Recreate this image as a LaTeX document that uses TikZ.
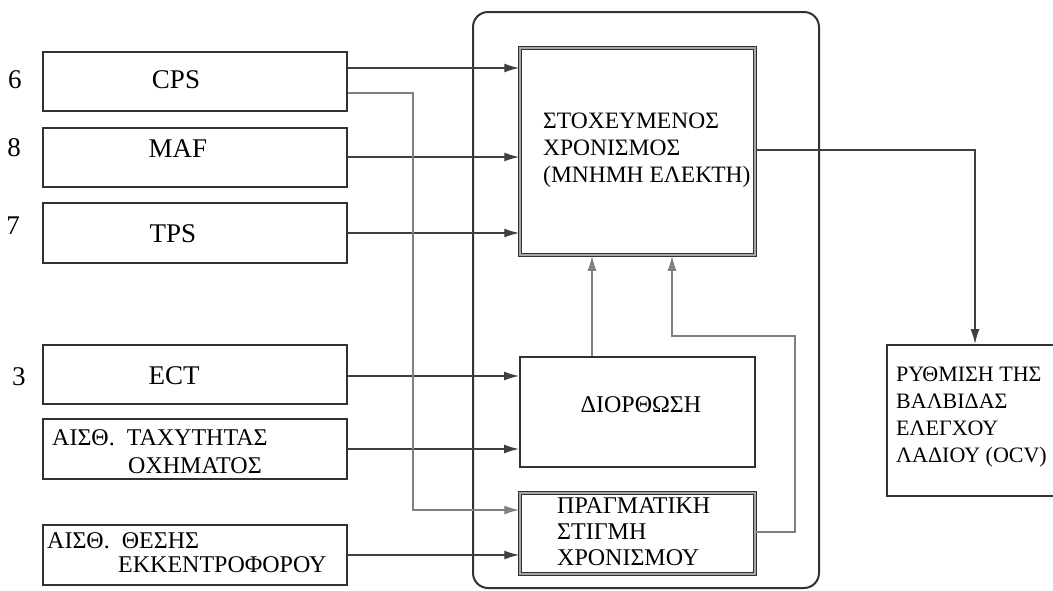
\documentclass[tikz,border=0pt]{standalone}
\usepackage{fontspec}
\setmainfont{Liberation Serif}
\usetikzlibrary{arrows.meta, positioning}
\definecolor{lgray}{RGB}{50,50,50}

\begin{document}
\begin{tikzpicture}[x=1pt, y=-1pt,
  sbox/.style={draw=lgray, line width=2pt, minimum width=304pt, minimum height=59pt, inner sep=0pt},
  cbox/.style={draw=lgray, line width=2pt, minimum width=235pt, inner sep=0pt},
  dbox/.style={cbox, line width=1.5pt, double=black!35, double distance=1.6pt},
  txt/.style={inner sep=0pt, font=\fontsize{24}{27}\selectfont, align=left},
  big/.style={inner sep=0pt, font=\fontsize{27}{30}\selectfont},
  arr/.style={-{Latex[length=15pt, width=9pt]}, line width=1.4pt, black!75},
  arrl/.style={arr, black!50}
]
\useasboundingbox (0,0) rectangle (1053,590);

% sensors
\node[sbox] (cps) at (195,81.5) {};
\node[sbox] (maf) at (195,157.5) {};
\node[sbox, minimum height=60pt] (tps) at (195,233) {};
\node[sbox] (ect) at (195,374.5) {};
\node[sbox, minimum height=60pt] (tax) at (195,449) {};
\node[sbox, minimum height=60pt] (ekk) at (195,555) {};

\node[big] (n6) at (15,80) {6};
\node[big] (n8) at (14,148) {8};
\node[big] (n7) at (13,226) {7};
\node[big] (n3) at (19,377) {3};

\node[big] (cpsl) at (176,80) {CPS};
\node[big] (mafl) at (178,149) {MAF};
\node[big] (tpsl) at (173,234) {TPS};
\node[big] (ectl) at (174,376) {ECT};
\node[txt, anchor=north west, font=\fontsize{24}{28}\selectfont] (taxl) at (52,429.5)
  {ΑΙΣΘ.~~ΤΑΧΥΤΗΤΑΣ\\\hspace*{76pt}ΟΧΗΜΑΤΟΣ};
\node[txt, anchor=north west, font=\fontsize{24}{23.5}\selectfont] (ekkl) at (47,532.5)
  {ΑΙΣΘ.~~ΘΕΣΗΣ\\\hspace*{71pt}ΕΚΚΕΝΤΡΟΦΟΡΟΥ};

% control unit
\node[draw=lgray, line width=2pt, rounded corners=15pt, minimum width=346pt,
  minimum height=576pt] (ecu) at (646,300) {};
\node[dbox, minimum height=207pt] (tgt) at (637.5,151.5) {};
\node[cbox, minimum height=110pt] (dior) at (637.5,412) {};
\node[dbox, minimum height=81pt] (prag) at (637.5,533.5) {};

\node[txt, anchor=north west, font=\fontsize{23.5}{27}\selectfont] (tgtl) at (543,112.5)
  {ΣΤΟΧΕΥΜΕΝΟΣ\\ΧΡΟΝΙΣΜΟΣ\\(ΜΝΗΜΗ ΕΛΕΚΤΗ)};
\node[txt] (diorl) at (641,405) {ΔΙΟΡΘΩΣΗ};
\node[txt, anchor=north west, font=\fontsize{24}{26}\selectfont] (pragl) at (557,497)
  {ΠΡΑΓΜΑΤΙΚΗ\\ΣΤΙΓΜΗ\\ΧΡΟΝΙΣΜΟΥ};

% output
\node[draw=lgray, line width=2pt, minimum width=176pt, minimum height=151pt] (ocv) at (975,420.5) {};
\node[txt, anchor=north west, font=\fontsize{22}{27}\selectfont] (ocvl) at (896,366.5)
  {ΡΥΘΜΙΣΗ ΤΗΣ\\ΒΑΛΒΙΔΑΣ\\ΕΛΕΓΧΟΥ\\ΛΑΔΙΟΥ (OCV)};

% connectors
\draw[arr] (cps.east |- 0,68) -- (tgt.west |- 0,68);
\draw[arr] (maf.east |- 0,157) -- (tgt.west |- 0,157);
\draw[arr] (tps.east) -- (tps.east -| tgt.west);
\draw[arr] (ect.east |- 0,376) -- (dior.west |- 0,376);
\draw[arr] (tax.east) -- (tax.east -| dior.west);
\draw[arr] (ekk.east) -- (ekk.east -| prag.west);
\draw[arrl] (cps.east |- 0,93) -- (413,93) |- (prag.west |- 0,510);
\draw[arrl] (dior.north -| 592,0) -- (tgt.south -| 592,0);
\draw[arrl] (prag.east |- 0,532) -- (795,532) |- (672,336) -- (tgt.south -| 672,0);
\draw[arr] (tgt.east |- 0,150) -| (ocv.north);
\end{tikzpicture}
\end{document}
